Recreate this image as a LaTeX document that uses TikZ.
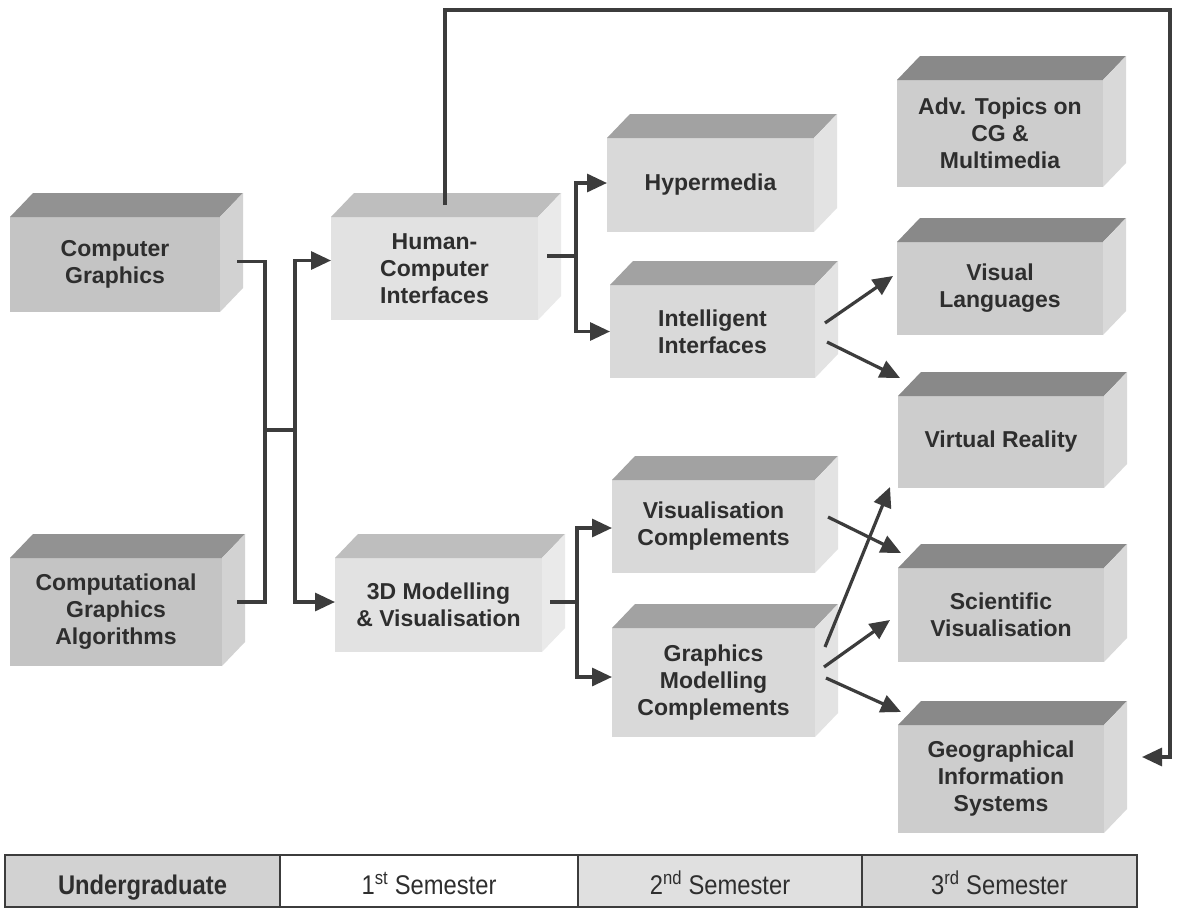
\documentclass[tikz,border=0pt]{standalone}
\usepackage{graphicx}
\usepackage{fontspec}
\setmainfont{Liberation Sans}
\usetikzlibrary{calc,arrows.meta}
\definecolor{txt}{HTML}{2E2E2E}
\definecolor{lnk}{HTML}{3C3C3C}
% undergraduate boxes
\definecolor{ugF}{HTML}{C4C4C4}
\definecolor{ugT}{HTML}{929292}
\definecolor{ugS}{HTML}{D2D2D2}
% 1st semester boxes
\definecolor{fsF}{HTML}{E2E2E2}
\definecolor{fsT}{HTML}{BEBEBE}
\definecolor{fsS}{HTML}{EAEAEA}
% 2nd semester boxes
\definecolor{ssF}{HTML}{D9D9D9}
\definecolor{ssT}{HTML}{A2A2A2}
\definecolor{ssS}{HTML}{E3E3E3}
% 3rd semester boxes
\definecolor{tsF}{HTML}{CDCDCD}
\definecolor{tsT}{HTML}{898989}
\definecolor{tsS}{HTML}{D9D9D9}
% table cells
\definecolor{cellA}{HTML}{D2D2D2}
\definecolor{cellC}{HTML}{E0E0E0}
\definecolor{cellD}{HTML}{D6D6D6}
\tikzset{
  face/.style={inner sep=0pt, outer sep=0pt, align=center, text=txt,
    font=\fontsize{23}{27}\selectfont\bfseries},
  conn/.style={draw=lnk, line width=3.2pt},
  arr/.style={conn, -{Triangle[length=20pt,width=18pt]}},
  cell/.style={draw=lnk, line width=1.5pt, inner sep=0pt, outer sep=0pt,
    minimum height=52pt, text height=26pt, text depth=0pt,
    text=txt, font=\fontsize{27}{30}\selectfont},
}
\newcommand\mycube[7]{%
  \node[face, fill=#6F, minimum width=#4pt, minimum height=#5pt] (#1) at (#2,#3) {#7};
  \fill[#6T] (#1.north west) -- ($(#1.north west)+(23,-24)$) -- ($(#1.north east)+(23,-24)$) -- (#1.north east) -- cycle;
  \fill[#6S] (#1.north east) -- ($(#1.north east)+(23,-24)$) -- ($(#1.south east)+(23,-24)$) -- (#1.south east) -- cycle;
}
\newcommand\narrow[1]{\scalebox{0.88}[1]{#1}}
\begin{document}
\begin{tikzpicture}[x=1pt,y=-1pt]
\fill[white] (0,0) rectangle (1179,910);
\useasboundingbox (0,0) rectangle (1179,910);

% boxes
\mycube{cg}{115}{264.5}{210}{95}{ug}{Computer\\Graphics}
\mycube{cga}{116}{612}{212}{108}{ug}{Computational\\Graphics\\Algorithms}
\mycube{hci}{434.5}{268.5}{207}{103}{fs}{Human-\\Computer\\Interfaces}
\mycube{tdm}{438.5}{605}{207}{94}{fs}{3D Modelling\\\& Visualisation}
\mycube{hyp}{710.5}{185}{207}{94}{ss}{Hypermedia}
\mycube{ii}{712.5}{331.5}{205}{93}{ss}{Intelligent\\Interfaces}
\mycube{vc}{713.5}{526.5}{203}{93}{ss}{Visualisation\\Complements}
\mycube{gmc}{713.5}{682.5}{203}{109}{ss}{Graphics\\Modelling\\Complements}
\mycube{adv}{1000}{133.5}{206}{107}{ts}{Adv. Topics on\\CG \&\\Multimedia}
\mycube{vl}{1000}{288.5}{206}{93}{ts}{Visual\\Languages}
\mycube{vr}{1001}{442}{206}{92}{ts}{Virtual Reality}
\mycube{sv}{1001}{615}{206}{94}{ts}{Scientific\\Visualisation}
\mycube{gis}{1001}{779}{206}{108}{ts}{Geographical\\Information\\Systems}

% undergraduate -> 1st semester
\coordinate (j1) at (265,430);
\coordinate (j2) at (295,430);
\draw[conn] ($(cg.east)+(17,-3)$) -| (j1);
\draw[conn] ($(cga.east)+(15,-10)$) -| (j1);
\draw[conn] (j1) -- (j2);
\draw[arr] (j2) |- ($(hci.west)+(0,-8)$);
\draw[arr] (j2) |- ($(tdm.west)+(0,-3)$);

% HCI -> 2nd semester
\draw[conn] ($(hci.east)+(9,-12.5)$) -- ++(29,0) coordinate (j3);
\draw[arr] (j3) |- ($(hyp.west)+(0,-2)$);
\draw[arr] (j3) |- (ii.west);

% 3D -> 2nd semester
\draw[conn] ($(tdm.east)+(8,-3)$) -- ++(27,0) coordinate (j4);
\draw[arr] (j4) |- ($(vc.west)+(0,1.5)$);
\draw[arr] (j4) |- ($(gmc.west)+(0,-5.5)$);

% HCI -> GIS (long route)
\coordinate (tr) at (1170,10);
\draw[arr] ($(hci.north)+(10.5,-12)$) |- (tr) |- ($(gis.east)+(38,-22)$);

% diagonal arrows
\draw[arr] ($(ii.east)+(10,-8.5)$) -- ($(vl.west)+(-4,-12.5)$);
\draw[arr] ($(ii.east)+(12,10.5)$) -- ($(vr.north west)+(2,-18)$);
\draw[arr] ($(vc.east)+(13,-9.5)$) -- ($(sv.north west)+(3,-15)$);
\draw[arr] ($(gmc.east)+(10,-35.5)$) -- ($(vr.south west)+(-8,-1)$);
\draw[arr] ($(gmc.east)+(9,-15.5)$) -- ($(sv.west)+(-8,5)$);
\draw[arr] ($(gmc.east)+(11,-4.5)$) -- ($(gis.north west)+(3,-13)$);

% semester table
\node[cell, fill=cellA, minimum width=275pt] (t1) at (142.5,881) {\narrow{\bfseries Undergraduate}};
\node[cell, fill=white, minimum width=298pt] (t2) at (429,881) {\narrow{1\textsuperscript{st} Semester}};
\node[cell, fill=cellC, minimum width=284pt] (t3) at (720,881) {\narrow{2\textsuperscript{nd} Semester}};
\node[cell, fill=cellD, minimum width=275pt] (t4) at (999.5,881) {\narrow{3\textsuperscript{rd} Semester}};
\end{tikzpicture}
\end{document}
